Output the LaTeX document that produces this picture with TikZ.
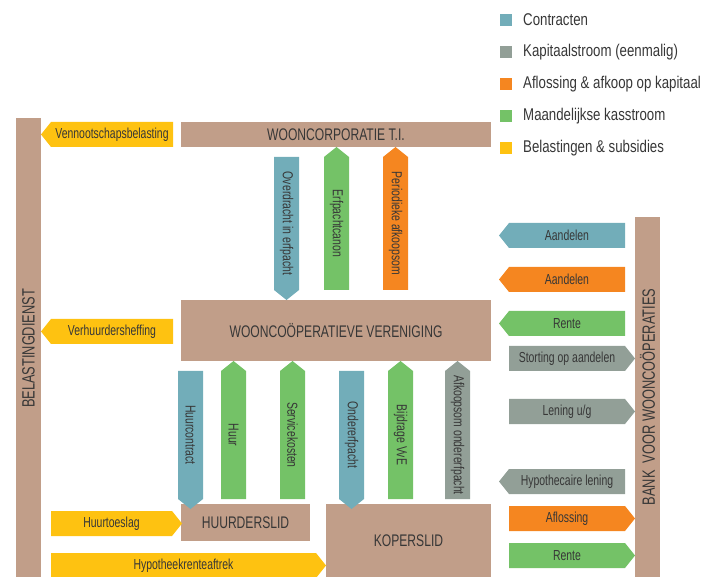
\documentclass[tikz,border=0pt]{standalone}
\usepackage{fontspec}
\setmainfont{Liberation Sans}[FakeStretch=0.78]
\newfontfamily\narrowfont{Liberation Sans}[FakeStretch=0.72]
\usepackage{tikz}
\usetikzlibrary{calc}

\definecolor{boxbrown}{RGB}{193,158,137}
\definecolor{contractblue}{RGB}{114,173,185}
\definecolor{capitalgray}{RGB}{146,159,151}
\definecolor{repayorange}{RGB}{245,134,32}
\definecolor{monthgreen}{RGB}{116,194,103}
\definecolor{taxyellow}{RGB}{254,194,17}
\definecolor{inkgray}{RGB}{55,55,55}

\tikzset{
  party/.style={fill=boxbrown, text=inkgray, inner sep=0pt, font=\narrowfont\fontsize{16.8}{18}\selectfont},
  partyside/.style={party, rotate=90, font=\narrowfont\fontsize{17.8}{19}\selectfont},
  flowtext/.style={text=inkgray, inner sep=0pt, font=\narrowfont\fontsize{14.5}{16}\selectfont},
  legendtext/.style={text=inkgray, inner sep=0pt, anchor=west, font=\fontsize{17}{19}\selectfont},
}

% flow arrows: colour, name, first, second, position, label
\newcommand{\flowleft}[6]{%
  \fill[#1] (#3,#5) -- (#4,#5) -- (#4,#5+25) -- (#3,#5+25) -- (#3-10,#5+12.5) -- cycle;
  \node[flowtext] (#2) at ({(#3+#4)/2},#5+12.5) {#6};}
\newcommand{\flowright}[6]{%
  \fill[#1] (#3,#5) -- (#4,#5) -- (#4+10,#5+12.5) -- (#4,#5+25) -- (#3,#5+25) -- cycle;
  \node[flowtext] (#2) at ({(#3+#4)/2},#5+12.5) {#6};}
\newcommand{\flowdown}[6]{%
  \fill[#1] (#5,#3) -- (#5+25,#3) -- (#5+25,#4) -- (#5+12.5,#4+10) -- (#5,#4) -- cycle;
  \node[flowtext, rotate=-90] (#2) at (#5+12.5,{(#3+#4)/2}) {#6};}
\newcommand{\flowup}[6]{%
  \fill[#1] (#5,#3) -- (#5+12.5,#3-10) -- (#5+25,#3) -- (#5+25,#4) -- (#5,#4) -- cycle;
  \node[flowtext, rotate=-90] (#2) at (#5+12.5,{(#3+#4)/2}) {#6};}

\begin{document}
\begin{tikzpicture}[x=1pt, y=-1pt]
\useasboundingbox (0,0) rectangle (718,577);

% parties
\fill[boxbrown] (16,118) rectangle (41,577);
\node[partyside] (tax) at (28.5,348.5) {BELASTINGDIENST};
\fill[boxbrown] (635,217) rectangle (660,577);
\node[partyside] (bank) at (647.5,397) {BANK\ \ VOOR WOONCOÖPERATIES};
\fill[boxbrown] (181,122) rectangle (491,147);
\node[party, fill=none] (corp) at (336,134.5) {WOONCORPORATIE T.I.};
\fill[boxbrown] (181,300) rectangle (491,361);
\node[party, fill=none] (wvv) at (336,330.5) {WOONCOÖPERATIEVE VERENIGING};
\fill[boxbrown] (181,504) rectangle (310,541);
\node[party, fill=none] (huurder) at (245.5,522.5) {HUURDERSLID};
\fill[boxbrown] (326,504) rectangle (491,577);
\node[party, fill=none] (koper) at (408.5,540.5) {KOPERSLID};

% between corporatie and vereniging
\flowdown{contractblue}{overdracht}{157}{290}{274}{Overdracht in erfpacht}
\flowup{monthgreen}{canon}{157}{290}{324}{Erfpachtcanon}
\flowup{repayorange}{afkoop}{157}{290}{383}{Periodieke afkoopsom}

% between vereniging and leden
\flowdown{contractblue}{huurcontract}{371}{499}{178}{Huurcontract}
\flowup{monthgreen}{huur}{371}{499}{221}{Huur}
\flowup{monthgreen}{service}{371}{499}{280}{Servicekosten}
\flowdown{contractblue}{ondererfpacht}{371}{499}{339}{Ondererfpacht}
\flowup{monthgreen}{vve}{371}{499}{388}{Bijdrage VvE}
\flowup{capitalgray}{afkoopsom}{371}{499}{445}{Afkoopsom ondererfpacht}

% belastingdienst
\flowleft{taxyellow}{vpb}{51}{173}{122}{Vennootschapsbelasting}
\flowleft{taxyellow}{heffing}{51}{173}{319}{Verhuurdersheffing}
\flowright{taxyellow}{toeslag}{51}{172}{511}{Huurtoeslag}
\flowright{taxyellow}{hra}{51}{316}{553}{Hypotheekrenteaftrek}

% bank
\flowleft{contractblue}{aandelenc}{509}{625}{223}{Aandelen}
\flowleft{repayorange}{aandeleno}{509}{625}{267}{Aandelen}
\flowleft{monthgreen}{rentew}{509}{625}{311}{Rente}
\flowright{capitalgray}{storting}{509}{625}{346}{Storting op aandelen}
\flowright{capitalgray}{lening}{509}{625}{399}{Lening u/g}
\flowleft{capitalgray}{hypotheek}{509}{625}{469}{Hypothecaire lening}
\flowright{repayorange}{aflossing}{509}{625}{506}{Aflossing}
\flowright{monthgreen}{rentek}{509}{625}{543}{Rente}

% legend
\fill[contractblue] (500,14) rectangle (512,26);
\node[legendtext] (lc) at (523,20) {Contracten};
\fill[capitalgray] (500,46) rectangle (512,58);
\node[legendtext] (lk) at (523,52) {Kapitaalstroom (eenmalig)};
\fill[repayorange] (500,78) rectangle (512,90);
\node[legendtext] (la) at (523,84) {Aflossing \& afkoop op kapitaal};
\fill[monthgreen] (500,110) rectangle (512,122);
\node[legendtext] (lm) at (523,116) {Maandelijkse kasstroom};
\fill[taxyellow] (500,142) rectangle (512,154);
\node[legendtext] (lb) at (523,148) {Belastingen \& subsidies};
\end{tikzpicture}
\end{document}
